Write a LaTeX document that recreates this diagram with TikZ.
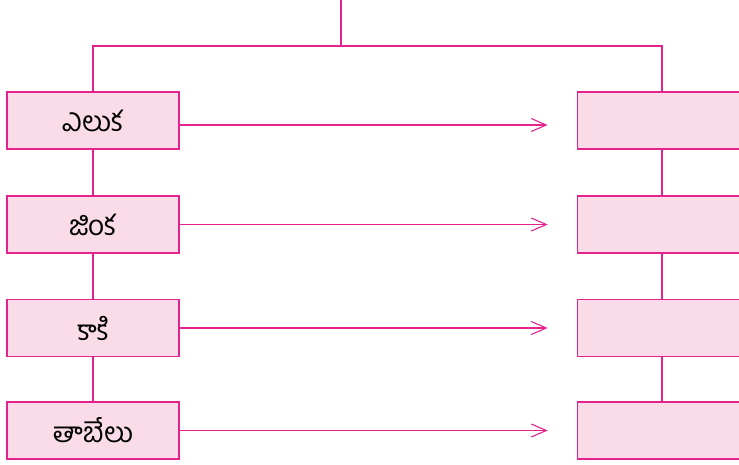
\documentclass[tikz,border=0pt]{standalone}
\usepackage{fontspec}
\newfontfamily\telugufont[Script=Telugu]{Hind Guntur}
\usetikzlibrary{arrows.meta}
\definecolor{linkpink}{HTML}{E5238E}
\definecolor{boxpink}{HTML}{F9DCE7}
\tikzset{
  lbox/.style={draw=linkpink, fill=boxpink, line width=1.3pt, minimum width=172pt, minimum height=57pt, inner sep=0pt, font=\telugufont\fontsize{28}{32}\selectfont},
  rbox/.style={lbox, minimum width=190pt, anchor=west},
  link/.style={draw=linkpink, line width=1.3pt},
  pointer/.style={link, -{Straight Barb[length=15pt, width=13pt, line width=1.1pt]}, shorten >=1pt}
}
\begin{document}
\begin{tikzpicture}[x=1pt, y=-1pt]
        \useasboundingbox (0,0) rectangle (739,464);

                % left column
                \node[lbox] (eluka) at (93,120.5) {ఎలుక};
                \node[lbox] (jinka) at (93,224.5) {జింక};
                \node[lbox] (kaki) at (93,328) {కాకి};
                \node[lbox] (tabelu) at (93,430.5) {తాబేలు};

                % right column (blank)
                \node[rbox] (r1) at (577,120.5) {};
                \node[rbox] (r2) at (577,224.5) {};
                \node[rbox] (r3) at (577,328) {};
                \node[rbox] (r4) at (577,430.5) {};

                % bracket at the top
                \coordinate (top) at (341,0);
                \coordinate (mid) at (341,46);
                \coordinate (tr) at (662,46);
                \draw[link] (top) -- (mid);
                \draw[link] (eluka.north) |- (tr) -- (tr |- r1.north);

                \draw[link] (eluka.south) -- (jinka.north);
                \draw[link] (jinka.south) -- (kaki.north);
                \draw[link] (kaki.south) -- (tabelu.north);
                \draw[link] (tr |- r1.south) -- (tr |- r2.north);
                \draw[link] (tr |- r2.south) -- (tr |- r3.north);
                \draw[link] (tr |- r3.south) -- (tr |- r4.north);

                % arrows
                \draw[pointer] ([yshift=-4.5pt]eluka.east) -- ++(369,0);
                \draw[pointer] (jinka.east) -- ++(369,0);
                \draw[pointer] (kaki.east) -- ++(369,0);
                \draw[pointer] (tabelu.east) -- ++(369,0);

\end{tikzpicture}
\end{document}
